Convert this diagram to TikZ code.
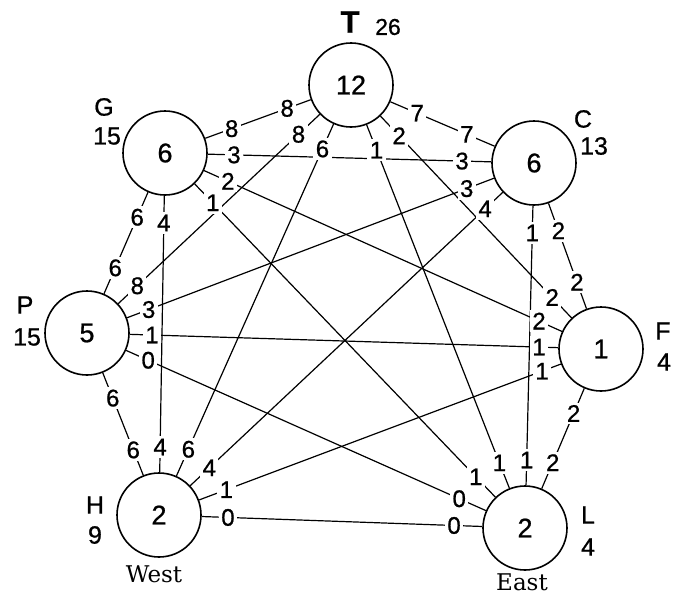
\documentclass[tikz,border=0pt]{standalone}
\usepackage{fontspec}
\setmainfont{Liberation Sans}[FakeBold=0.8]
\newfontfamily\westeast{DejaVu Serif}
\usetikzlibrary{calc}
\begin{document}
\begin{tikzpicture}[x=1pt,y=-1pt,
  city/.style={circle,draw,line width=1.6pt,minimum size=84pt,inner sep=0pt,font=\fontsize{27}{27}\selectfont},
  edge/.style={line width=1.2pt},
  lab/.style={fill=white,inner sep=2.5pt,font=\fontsize{24}{24}\selectfont},
  tag/.style={inner sep=0pt,font=\fontsize{25}{25}\selectfont},
  side/.style={inner sep=0pt,font=\fontsize{23}{23}\selectfont\westeast}]
\useasboundingbox (0,0) rectangle (674,597);
% towns
\node[city] (T) at (351,85) {12};
\node[city] (C) at (534,163) {6};
\node[city] (F) at (601,349) {1};
\node[city] (L) at (525,528) {2};
\node[city] (H) at (159,515) {2};
\node[city] (P) at (87,333) {5};
\node[city] (G) at (165,153) {6};
% connectors
\foreach \a/\b in {T/G,T/C,C/F,F/L,L/H,H/P,P/G,T/P,T/F,G/C,G/H,C/L,F/H,P/L,T/H,T/L,G/F,G/L,C/P,C/H,P/F}
  \draw[edge] (\a) -- (\b);
% end labels
\foreach \a/\b/\la/\lb/\da/\db in {
  T/G/8/8/68pt/71pt, T/C/7/7/72pt/73pt, C/F/2/2/72pt/71pt, F/L/2/2/70pt/71pt,
  L/H/0/0/71pt/69pt, H/P/6/6/70pt/70pt, P/G/6/6/71pt/70pt, T/P/8/8/72pt/69pt,
  T/F/2/2/70pt/71pt, G/C/3/3/69pt/72pt, G/H/4/4/70pt/68pt, C/L/1/1/70pt/68pt,
  F/H/1/1/63pt/72pt, P/L/0/0/67pt/72pt, T/H/6/6/70pt/72pt, T/L/1/1/70pt/70pt,
  G/F/2/2/69pt/68pt, G/L/1/1/69pt/71pt, C/P/3/3/72pt/66pt, C/H/4/4/67pt/69pt,
  P/F/1/1/65pt/62pt}
{
  \node[lab] (l\a\b) at ($(\a)!\da!(\b)$) {\la};
  \node[lab] (l\b\a) at ($(\b)!\db!(\a)$) {\lb};
}
% names and totals
\node[inner sep=0pt,font=\fontsize{31}{31}\selectfont\bfseries] (nT) at (350,22) {T};
\node[tag,font=\fontsize{23}{23}\selectfont] (vT) at (388,27) {26};
\node[tag] (nG) at (104,107) {G};
\node[tag] (vG) at (107,136) {15};
\node[tag] (nC) at (583,119) {C};
\node[tag] (vC) at (594,146) {13};
\node[tag] (nP) at (25,305) {P};
\node[tag] (vP) at (27,337) {15};
\node[tag] (nF) at (663,331) {F};
\node[tag] (vF) at (664,362) {4};
\node[tag] (nH) at (95,505) {H};
\node[tag] (vH) at (95,535) {9};
\node[tag] (nL) at (588,515) {L};
\node[tag] (vL) at (588,547) {4};
\node[side] (west) at (154,574) {West};
\node[side] (east) at (522,582) {East};
\end{tikzpicture}
\end{document}
